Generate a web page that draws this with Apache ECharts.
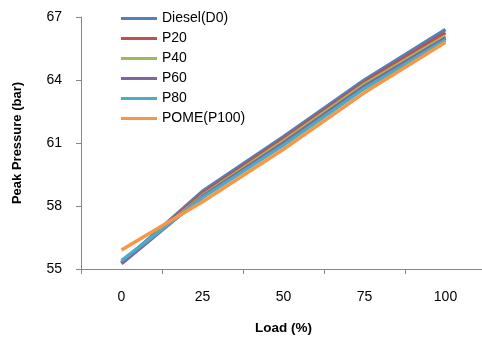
<!DOCTYPE html>
<html><head><meta charset="utf-8">
<script src="https://cdn.jsdelivr.net/npm/echarts@6/dist/echarts.min.js"></script>
<style>html,body{margin:0;padding:0;background:#fff}#c{width:482px;height:338px}</style>
</head><body><div id="c"></div>
<script>
var categories = ['0','25','50','75','100'];
var seriesNames = ['Diesel(D0)','P20','P40','P60','P80','POME(P100)'];
var diesel = [55.3, 58.7, 61.3, 64.0, 66.4];
var p20 = [55.3, 58.6, 61.2, 63.9, 66.25];
var p40 = [55.3, 58.5, 61.1, 63.8, 66.1];
var p60 = [55.25, 58.45, 61.0, 63.7, 66.0];
var p80 = [55.4, 58.4, 60.9, 63.6, 65.9];
var pome = [55.9, 58.2, 60.7, 63.4, 65.8];
var yTicks = [55, 58, 61, 64, 67];
var colors = ['#4F81BD','#C0504D','#9BBB59','#8064A2','#4BACC6','#F79646'];
var allData = [diesel, p20, p40, p60, p80, pome];
var font = 'Liberation Sans';
var chart = echarts.init(document.getElementById('c'));
chart.setOption({
  animation: false,
  color: colors,
  grid: {left: 81, right: -4, top: 17, bottom: 69, containLabel: false, outerBoundsMode: 'none'},
  legend: {
    orient: 'vertical', left: 116, top: 5,
    icon: 'rect', itemWidth: 36, itemHeight: 3, itemGap: 3,
    textStyle: {fontFamily: font, fontSize: 14, color: '#000', lineHeight: 17},
    data: seriesNames
  },
  xAxis: {
    type: 'category', data: categories, boundaryGap: true,
    name: 'Load (%)', nameLocation: 'middle', nameGap: 52,
    nameTextStyle: {fontFamily: font, fontSize: 13.5, fontWeight: 'bold', color: '#000'},
    axisLine: {lineStyle: {color: '#868686'}},
    axisTick: {show: true, length: 5, lineStyle: {color: '#868686'}},
    axisLabel: {fontFamily: font, fontSize: 14, color: '#000', margin: 21}
  },
  yAxis: {
    type: 'value', min: yTicks[0], max: yTicks[yTicks.length-1], interval: 3,
    name: 'Peak Pressure (bar)', nameLocation: 'middle', nameGap: 57,
    nameTextStyle: {fontFamily: font, fontSize: 13, fontWeight: 'bold', color: '#000'},
    splitLine: {show: false},
    axisLine: {show: true, lineStyle: {color: '#868686'}},
    axisTick: {show: true, length: 5, lineStyle: {color: '#868686'}},
    axisLabel: {fontFamily: font, fontSize: 14, color: '#000', margin: 19}
  },
  series: seriesNames.map(function(n, i){
    return {name: n, type: 'line', data: allData[i], symbol: 'none',
      lineStyle: {width: 3.5, color: colors[i]}, itemStyle: {color: colors[i]}};
  })
});
</script></body></html>
